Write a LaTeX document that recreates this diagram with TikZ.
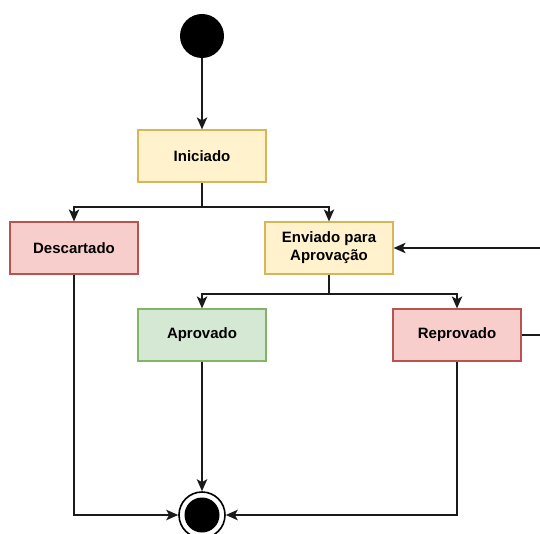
\documentclass[tikz,border=0pt]{standalone}
\usepackage{fontspec}
\setmainfont{Liberation Sans}
\usetikzlibrary{arrows.meta}
\definecolor{yfill}{HTML}{FFF2CC}
\definecolor{yline}{HTML}{D6B656}
\definecolor{rfill}{HTML}{F8CECC}
\definecolor{rline}{HTML}{B85450}
\definecolor{gfill}{HTML}{D5E8D4}
\definecolor{gline}{HTML}{82B366}
\definecolor{wire}{HTML}{1A1A1A}
\tikzset{
  state/.style={draw, rectangle, line width=1.2pt, minimum width=128pt, minimum height=52pt,
    inner sep=0pt, align=center, font=\bfseries\fontsize{15}{18}\selectfont, text=black},
  ybox/.style={state, fill=yfill, draw=yline},
  rbox/.style={state, fill=rfill, draw=rline},
  gbox/.style={state, fill=gfill, draw=gline},
  startdot/.style={circle, fill=black, minimum size=44pt, inner sep=0pt},
  enddot/.style={circle, draw=black, line width=1.6pt, minimum size=46pt, inner sep=0pt, fill=white},
  wireline/.style={draw=wire, line width=1.3pt},
  arr/.style={wireline, -{Stealth[length=12pt, width=10.5pt, inset=3pt]}}
}
\begin{document}
\begin{tikzpicture}[x=1pt, y=-1pt]
\useasboundingbox (0,0) rectangle (540,534);
\fill[white] (0,0) rectangle (540,534);

% states
\node[startdot] (start) at (202,36) {};
\node[ybox] (ini) at (202,156) {Iniciado};
\node[rbox] (desc) at (74,248) {Descartado};
\node[ybox] (env) at (329,248) {Enviado para\\Aprovação};
\node[gbox] (apr) at (202,335) {Aprovado};
\node[rbox] (rep) at (457,335) {Reprovado};
\node[enddot] (fim) at (202,515) {};
\fill (fim.center) circle (17.5pt);

% junctions and the return path of a rejected request
\coordinate (j1) at (202,207);
\coordinate (j2) at (329,294);
\coordinate (rx) at (570,335);
\coordinate (ry) at (570,248);

% transitions
\draw[arr] (start) -- (ini);
\draw[wireline] (ini.south) -- (j1);
\draw[arr] (j1) -| (desc.north);
\draw[arr] (j1) -| (env.north);
\draw[wireline] (env.south) -- (j2);
\draw[arr] (j2) -| (apr.north);
\draw[arr] (j2) -| (rep.north);
\draw[arr] (rep.east) -- (rx) -- (ry) -- (env.east);
\draw[arr] (desc.south) |- (fim.west);
\draw[arr] (apr.south) -- (fim.north);
\draw[arr] (rep.south) |- (fim.east);
\end{tikzpicture}
\end{document}
